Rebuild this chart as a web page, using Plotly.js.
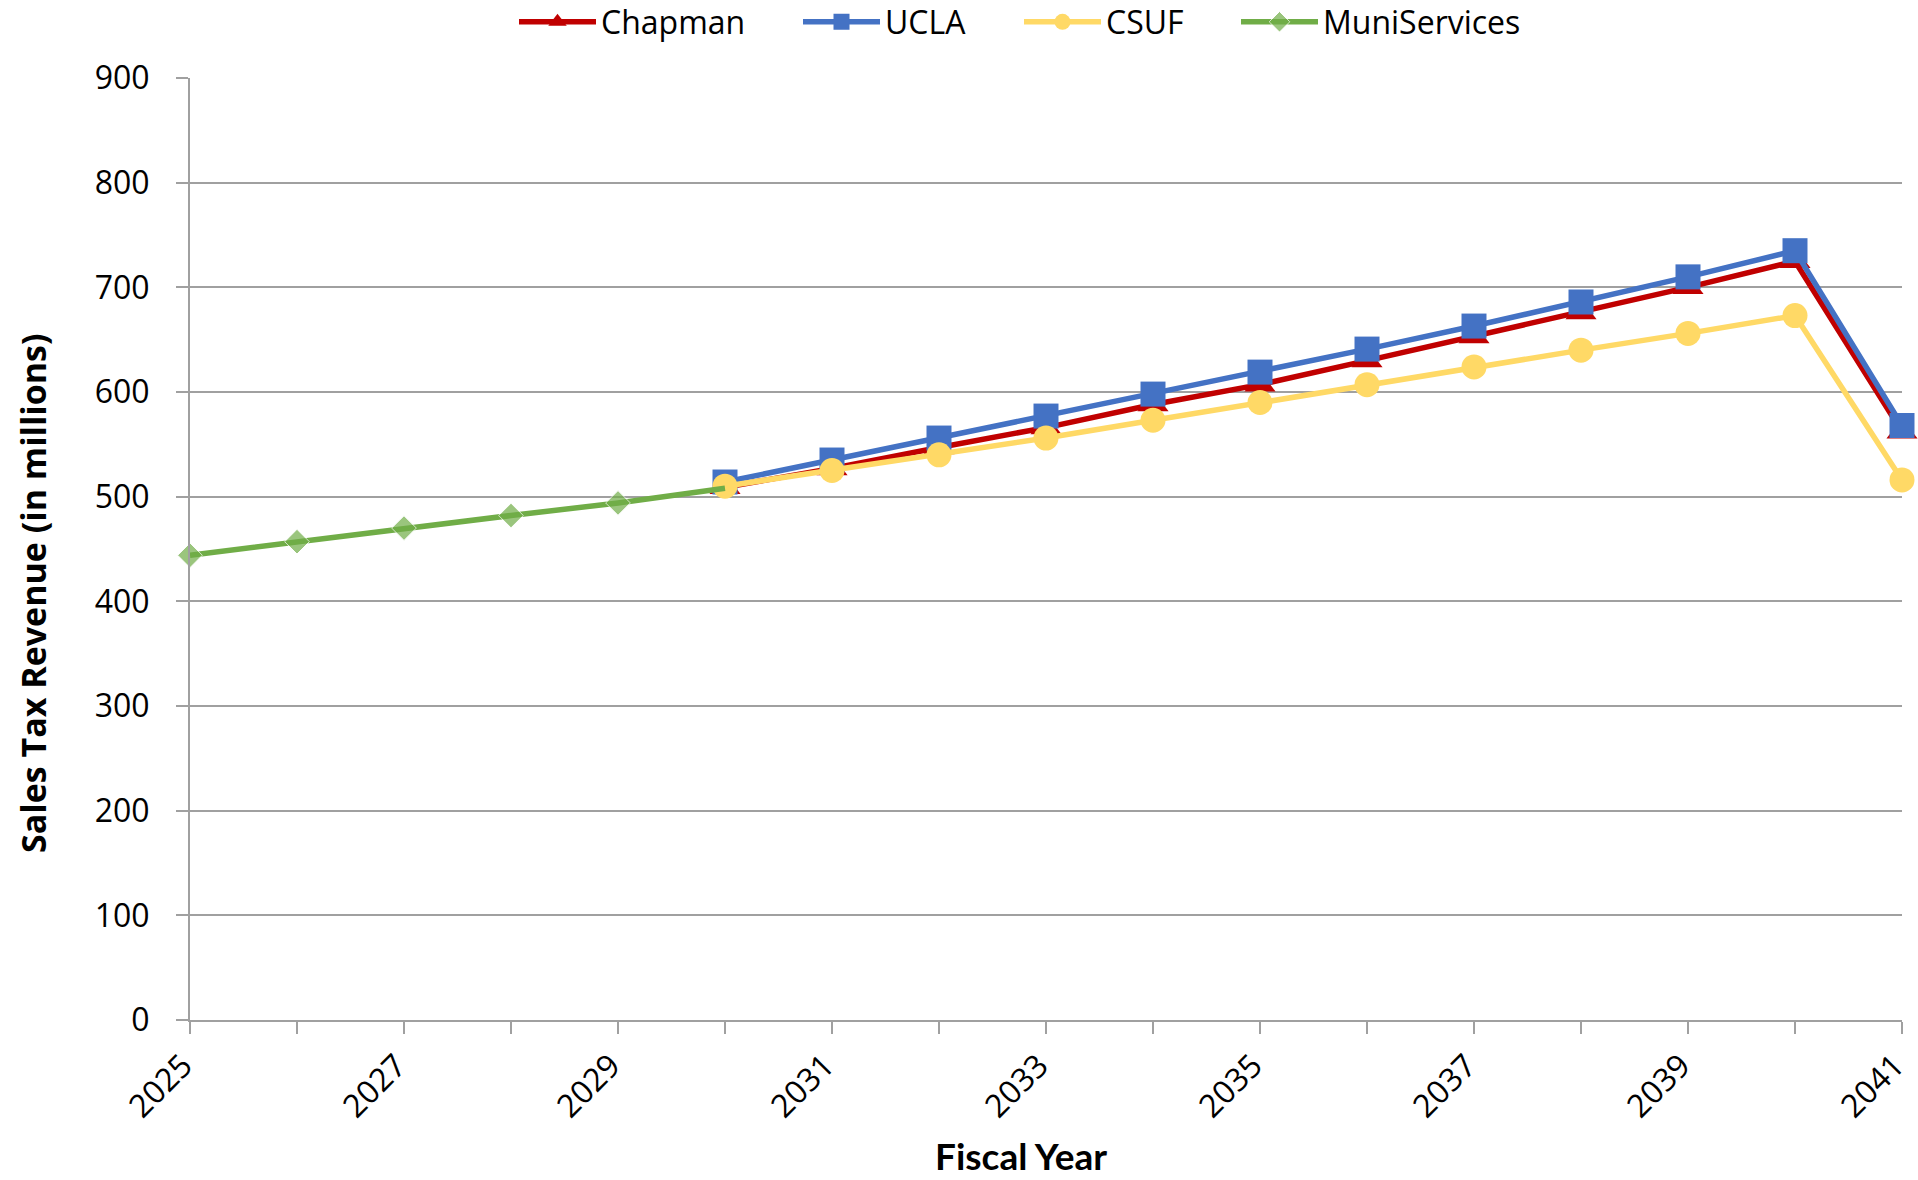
<!DOCTYPE html>
<html>
<head>
<meta charset="utf-8">
<script src="https://cdn.plot.ly/plotly-3.0.1.min.js"></script>
<style>html,body{margin:0;padding:0;background:#fff;}#chart{width:1918px;height:1180px;}</style>
</head>
<body>
<div id="chart"></div>
<script>
// ---- data ----
const muniYears = [2025, 2026, 2027, 2028, 2029, 2030];
const muniValues = [444, 457, 470, 482, 494, 508];
const forecastYears = [2030, 2031, 2032, 2033, 2034, 2035, 2036, 2037, 2038, 2039, 2040, 2041];
const chapmanValues = [509, 527, 547, 566, 588, 607, 630, 653, 676, 700, 725, 562];
const uclaValues = [514, 535, 556, 577, 598, 619, 641, 663, 686, 710, 735, 568];
const csufValues = [510, 525, 540, 556, 573, 590, 607, 624, 640, 656, 673, 516];
const xTickVals = [2025, 2026, 2027, 2028, 2029, 2030, 2031, 2032, 2033, 2034, 2035, 2036, 2037, 2038, 2039, 2040, 2041];
const xTickText = ['2025', '', '2027', '', '2029', '', '2031', '', '2033', '', '2035', '', '2037', '', '2039', '', '2041'];
const yTickVals = [0, 100, 200, 300, 400, 500, 600, 700, 800, 900];
const xTitle = 'Fiscal Year';
const yTitle = 'Sales Tax Revenue (in millions)';

const FONT = 'Open Sans, Noto Sans, sans-serif';
const GRID = '#a0a0a0';
const W = 1918, H = 1180;

const traces = [
  {name: 'Chapman', legend: 'legend', x: forecastYears, y: chapmanValues, type: 'scatter', mode: 'lines+markers',
   line: {color: '#c00000', width: 5.5}, marker: {symbol: 'triangle-up', size: 27, color: '#c00000'}, cliponaxis: false},
  {name: 'UCLA', legend: 'legend2', x: forecastYears, y: uclaValues, type: 'scatter', mode: 'lines+markers',
   line: {color: '#4472c4', width: 5.5}, marker: {symbol: 'square', size: 25, color: '#4472c4'}, cliponaxis: false},
  {name: 'CSUF', legend: 'legend3', x: forecastYears, y: csufValues, type: 'scatter', mode: 'lines+markers',
   line: {color: '#ffd966', width: 5.5}, marker: {symbol: 'circle', size: 25, color: '#ffd966'}, cliponaxis: false},
  {name: 'MuniServices', legend: 'legend4', x: muniYears, y: muniValues, type: 'scatter', mode: 'lines+markers',
   line: {color: '#70ad47', width: 5.5}, marker: {symbol: 'diamond', size: [19, 19, 19, 19, 19, 0], color: '#70ad47'}, cliponaxis: false}
];

function legendAt(px) {
  return {orientation: 'h', xref: 'container', yref: 'container', x: px / W, xanchor: 'left', y: 1 - 22 / H, yanchor: 'middle',
          font: {family: FONT, size: 32, color: '#000'}, itemwidth: 77, bgcolor: 'rgba(0,0,0,0)', borderwidth: 0};
}

const layout = {
  width: W, height: H,
  paper_bgcolor: '#ffffff', plot_bgcolor: '#ffffff',
  margin: {l: 190, r: 16, t: 78, b: 160},
  font: {family: FONT, size: 32, color: '#000'},
  showlegend: true,
  legend: legendAt(514),
  legend2: legendAt(798),
  legend3: legendAt(1019),
  legend4: legendAt(1236),
  xaxis: {
    range: [2025, 2041], tickmode: 'array', tickvals: xTickVals, ticktext: xTickText, tickangle: -45,
    ticklabeloverflow: 'allow', ticklabelshift: -7,
    showgrid: false, zeroline: false, showline: true, linecolor: GRID, linewidth: 2,
    ticks: 'outside', ticklen: 12, tickcolor: GRID, tickwidth: 2,
    tickfont: {family: FONT, size: 32, color: '#000'},
    fixedrange: true
  },
  yaxis: {
    range: [0, 900], tickmode: 'array', tickvals: yTickVals,
    ticklabeloverflow: 'allow',
    showgrid: true, gridcolor: GRID, gridwidth: 2, zeroline: false, showline: true, linecolor: GRID, linewidth: 2,
    ticks: 'outside', ticklen: 12, tickcolor: GRID, tickwidth: 2, ticklabelstandoff: 20,
    tickfont: {family: FONT, size: 32, color: '#000'},
    fixedrange: true
  },
  annotations: [
    {text: '<b>' + yTitle + '</b>', xref: 'paper', yref: 'paper', x: 0, xshift: -157, y: 0.4533,
     xanchor: 'center', yanchor: 'middle', textangle: -90, showarrow: false,
     font: {family: FONT, size: 34, color: '#000'}},
    {text: '<b>' + xTitle + '</b>', xref: 'paper', yref: 'paper', x: 0.4854, y: 0, yshift: -135,
     xanchor: 'center', yanchor: 'middle', showarrow: false,
     font: {family: 'Lato, Open Sans, sans-serif', size: 37, color: '#000'}}
  ]
};

Plotly.newPlot('chart', traces, layout, {displayModeBar: false, staticPlot: true});
</script>
</body>
</html>
